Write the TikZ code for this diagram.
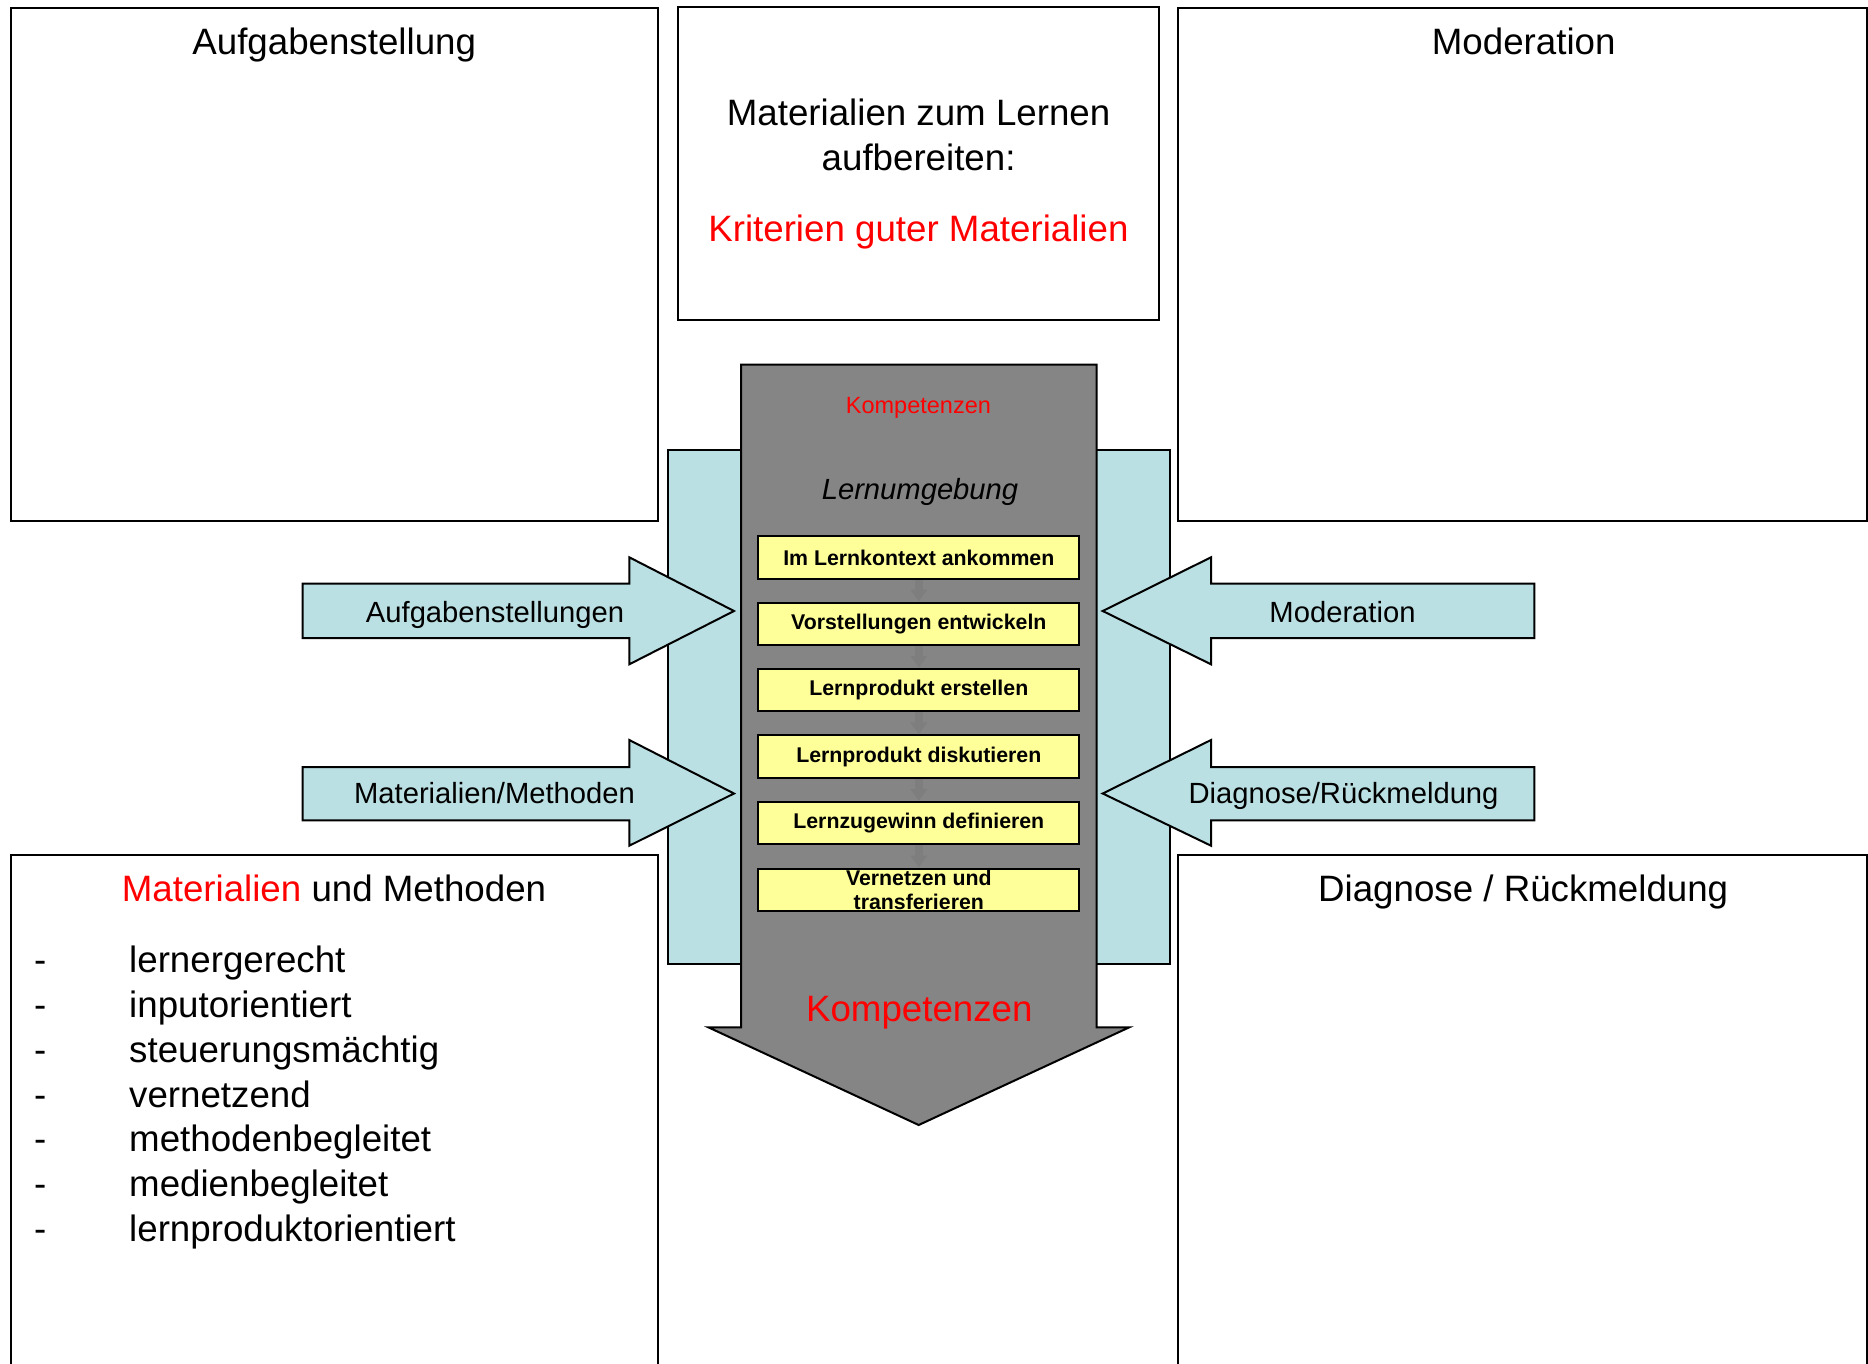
\documentclass[tikz,border=0pt]{standalone}
\usepackage{fontspec}
\setmainfont{Liberation Sans}
\usetikzlibrary{arrows.meta}
\definecolor{lblue}{HTML}{BBE0E3}
\definecolor{arrowgray}{HTML}{858585}
\definecolor{stepyellow}{HTML}{FFFF99}
\definecolor{flowgray}{HTML}{7E7E7E}
\begin{document}
\begin{tikzpicture}[x=0.5pt,y=-0.5pt,
  panel/.style={draw=black,line width=1pt,rectangle,inner sep=0pt},
  bigtext/.style={font=\fontsize{18.35pt}{22pt}\selectfont,inner sep=0pt,anchor=base},
  midtext/.style={font=\fontsize{14.6pt}{17pt}\selectfont,inner sep=0pt,anchor=base},
  blockarrow/.style={draw=black,line width=1pt,fill=lblue,line join=miter},
  stepbox/.style={draw=black,line width=1pt,fill=stepyellow,rectangle,inner xsep=2pt,inner ysep=0pt,
    minimum width=160.5pt,minimum height=21.25pt,align=center,
    font=\fontsize{10.65pt}{12pt}\selectfont\bfseries},
  flowarrow/.style={draw=flowgray,line width=4pt,-{Triangle[width=8pt,length=6pt]}}
]
\useasboundingbox (0,0) rectangle (1868,1364);
\clip (0,0) rectangle (1868,1364);

% panels
\node[panel,minimum width=323.45pt,minimum height=256.15pt] (tl) at (334.15,264.45) {};
\node[panel,minimum width=240.35pt,minimum height=156.35pt] (tc) at (918.65,163.65) {};
\node[panel,minimum width=344.25pt,minimum height=256.15pt] (tr) at (1522.25,264.45) {};
\node[panel,minimum width=323.45pt,minimum height=272.3pt] (bl) at (334.15,1127.7) {};
\node[panel,minimum width=344.25pt,minimum height=272.3pt] (br) at (1522.25,1127.7) {};

% light blue background
\node[panel,fill=lblue,minimum width=250.6pt,minimum height=257pt] (env) at (918.9,707.3) {};

% big gray arrow
\draw[line width=1pt,fill=arrowgray,line join=miter]
  (741,364.5) -- (1096.7,364.5) -- (1096.7,1027.3) -- (1129.3,1027.3)
  -- (918.7,1125) -- (708.3,1027.3) -- (741,1027.3) -- cycle;

% side block arrows
\draw[blockarrow] (302.7,583.7) -- (629.3,583.7) -- (629.3,557.3) -- (734,611)
  -- (629.3,664.3) -- (629.3,638) -- (302.7,638) -- cycle;
\draw[blockarrow] (302.7,767) -- (629.3,767) -- (629.3,740) -- (734,793.5)
  -- (629.3,845.7) -- (629.3,820.3) -- (302.7,820.3) -- cycle;
\draw[blockarrow] (1534.3,583.7) -- (1211,583.7) -- (1211,557.3) -- (1102.7,611)
  -- (1211,664.3) -- (1211,638) -- (1534.3,638) -- cycle;
\draw[blockarrow] (1534.3,767) -- (1211,767) -- (1211,740) -- (1102.7,793.5)
  -- (1211,845.7) -- (1211,820.3) -- (1534.3,820.3) -- cycle;

% steps
\node[stepbox] (s1) at (918.8,557.65) {Im Lernkontext ankommen};
\node[stepbox] (s2) at (918.8,623.85) {Vorstellungen entwickeln};
\node[stepbox] (s3) at (918.8,690.05) {Lernprodukt erstellen};
\node[stepbox] (s4) at (918.8,756.65) {Lernprodukt diskutieren};
\node[stepbox] (s5) at (918.8,823.2) {Lernzugewinn definieren};
\node[stepbox] (s6) at (918.8,889.8) {Vernetzen und\\transferieren};
\draw[flowarrow] (s1.south) -- (s2.north);
\draw[flowarrow] (s2.south) -- (s3.north);
\draw[flowarrow] (s3.south) -- (s4.north);
\draw[flowarrow] (s4.south) -- (s5.north);
\draw[flowarrow] (s5.south) -- (s6.north);

% texts
\node[bigtext] (ttl) at (334.2,55) {Aufgabenstellung};
\node[bigtext] (ttr) at (1523.7,55) {Moderation};
\node[bigtext] (c1) at (918.6,126) {Materialien zum Lernen};
\node[bigtext] (c2) at (918.6,170.7) {aufbereiten:};
\node[bigtext,text=red] (c3) at (918.4,241.7) {Kriterien guter Materialien};
\node[inner sep=0pt,anchor=base,text=red,font=\fontsize{11.75pt}{14pt}\selectfont] (k1) at (918.4,413) {Kompetenzen};
\node[midtext,font=\fontsize{14.6pt}{17pt}\selectfont\itshape] (lu) at (920,499) {Lernumgebung};
\node[bigtext,text=red] (k2) at (919.3,1021) {Kompetenzen};

\node[midtext] (la1) at (495,622.7) {Aufgabenstellungen};
\node[midtext] (la2) at (494.5,803.3) {Materialien/Methoden};
\node[midtext] (ra1) at (1342.5,622.7) {Moderation};
\node[midtext] (ra2) at (1343.5,803.3) {Diagnose/Rückmeldung};

\node[bigtext] (tbl) at (334,901.7) {\textcolor{red}{Materialien} und Methoden};
\node[bigtext] (tbr) at (1523.2,901.7) {Diagnose / Rückmeldung};

\foreach \t [count=\i from 0] in {lernergerecht,inputorientiert,steuerungsmächtig,vernetzend,methodenbegleitet,medienbegleitet,lernproduktorientiert}{
  \node[bigtext,anchor=base west] (dash\i) at (33.8,972.7+\i*44.77) {-};
  \node[bigtext,anchor=base west] (item\i) at (128.8,972.7+\i*44.77) {\t};
}
\end{tikzpicture}
\end{document}
